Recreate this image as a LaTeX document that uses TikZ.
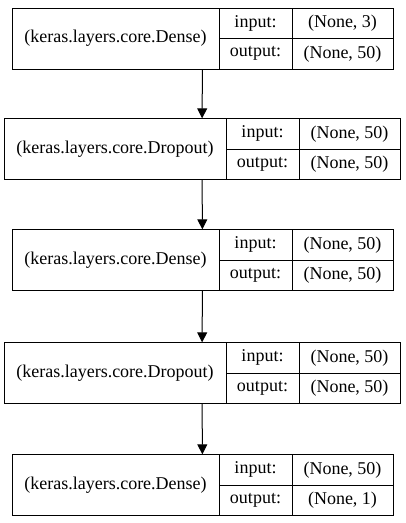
\documentclass[tikz,border=0pt]{standalone}
\usepackage{fontspec}
\setmainfont{Liberation Serif}
\usetikzlibrary{arrows.meta}
\tikzset{
  record/.style={minimum height=61pt, inner sep=0pt},
  kname/.style={draw, line width=1pt, minimum height=61pt, inner sep=0pt, font=\fontsize{18}{21}\selectfont},
  kport/.style={draw, line width=1pt, minimum height=30.5pt, inner sep=0pt, font=\fontsize{18}{21}\selectfont},
  flow/.style={-{Triangle[length=10pt, width=10pt]}, line width=1pt},
}

\begin{document}
\begin{tikzpicture}[x=1pt, y=1pt]
    \useasboundingbox (0,0) rectangle (405,-523);
    % layer 1
    \node[record, minimum width=381pt] (dense1) at (202.5,-38.5) {};
    \node[kname, minimum width=207pt] (dense1name) at (115.5,-38.5) {(keras.layers.core.Dense)};
    \node[kport, minimum width=73pt] (dense1in) at (255.5,-23.25) {input:};
    \node[kport, minimum width=73pt] (dense1out) at (255.5,-53.75) {output:};
    \node[kport, minimum width=101pt] (dense1inval) at (342.5,-23.25) {(None, 3)};
    \node[kport, minimum width=101pt] (dense1outval) at (342.5,-53.75) {(None, 50)};
    % layer 2
    \node[record, minimum width=396pt] (drop1) at (202,-149) {};
    \node[kname, minimum width=222pt] (drop1name) at (115,-149) {(keras.layers.core.Dropout)};
    \node[kport, minimum width=73pt] (drop1in) at (262.5,-133.75) {input:};
    \node[kport, minimum width=73pt] (drop1out) at (262.5,-164.25) {output:};
    \node[kport, minimum width=101pt] (drop1inval) at (349.5,-133.75) {(None, 50)};
    \node[kport, minimum width=101pt] (drop1outval) at (349.5,-164.25) {(None, 50)};
    % layer 3
    \node[record, minimum width=381pt] (dense2) at (202.5,-260) {};
    \node[kname, minimum width=207pt] (dense2name) at (115.5,-260) {(keras.layers.core.Dense)};
    \node[kport, minimum width=73pt] (dense2in) at (255.5,-244.75) {input:};
    \node[kport, minimum width=73pt] (dense2out) at (255.5,-275.25) {output:};
    \node[kport, minimum width=101pt] (dense2inval) at (342.5,-244.75) {(None, 50)};
    \node[kport, minimum width=101pt] (dense2outval) at (342.5,-275.25) {(None, 50)};
    % layer 4
    \node[record, minimum width=396pt] (drop2) at (202,-373) {};
    \node[kname, minimum width=222pt] (drop2name) at (115,-373) {(keras.layers.core.Dropout)};
    \node[kport, minimum width=73pt] (drop2in) at (262.5,-357.75) {input:};
    \node[kport, minimum width=73pt] (drop2out) at (262.5,-388.25) {output:};
    \node[kport, minimum width=101pt] (drop2inval) at (349.5,-357.75) {(None, 50)};
    \node[kport, minimum width=101pt] (drop2outval) at (349.5,-388.25) {(None, 50)};
    % layer 5
    \node[record, minimum width=381pt] (dense3) at (202.5,-485) {};
    \node[kname, minimum width=207pt] (dense3name) at (115.5,-485) {(keras.layers.core.Dense)};
    \node[kport, minimum width=73pt] (dense3in) at (255.5,-469.75) {input:};
    \node[kport, minimum width=73pt] (dense3out) at (255.5,-500.25) {output:};
    \node[kport, minimum width=101pt] (dense3inval) at (342.5,-469.75) {(None, 50)};
    \node[kport, minimum width=101pt] (dense3outval) at (342.5,-500.25) {(None, 1)};
    % connectors
    \draw[flow] (dense1) -- (drop1);
    \draw[flow] (drop1) -- (dense2);
    \draw[flow] (dense2) -- (drop2);
    \draw[flow] (drop2) -- (dense3);
\end{tikzpicture}
\end{document}
